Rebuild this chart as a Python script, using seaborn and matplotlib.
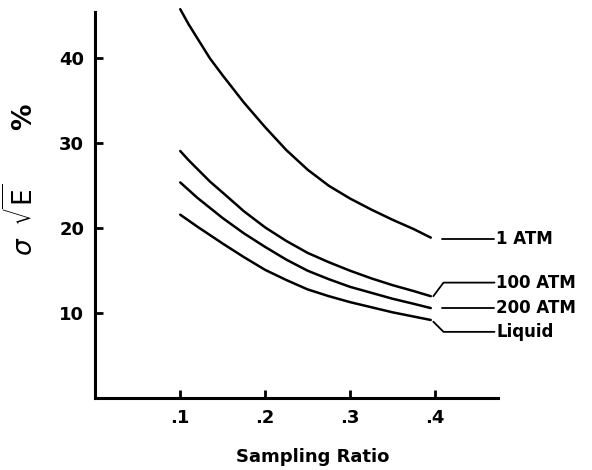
import matplotlib
matplotlib.use("Agg")
import matplotlib.pyplot as plt
import seaborn as sns
import pandas as pd

sns.set_theme(style="white")
plt.rcParams['font.family'] = ['DejaVu Sans']
plt.rcParams['text.color'] = 'black'
plt.rcParams['axes.labelcolor'] = 'black'
plt.rcParams['xtick.color'] = 'black'
plt.rcParams['ytick.color'] = 'black'

x_vals = [0.10, 0.11, 0.12, 0.135, 0.15, 0.175, 0.20, 0.225, 0.25, 0.275,
          0.30, 0.325, 0.35, 0.375, 0.395]
atm1 = [45.8, 44.0, 42.4, 40.0, 38.0, 34.8, 31.9, 29.2, 26.9, 25.0,
        23.5, 22.2, 21.0, 19.9, 18.9]
atm100 = [29.1, 28.0, 27.0, 25.5, 24.2, 22.0, 20.1, 18.5, 17.1, 16.0,
          15.0, 14.1, 13.3, 12.6, 12.0]
atm200 = [25.4, 24.5, 23.6, 22.4, 21.2, 19.4, 17.8, 16.3, 15.0, 14.0,
          13.1, 12.4, 11.7, 11.1, 10.6]
liquid = [21.6, 20.9, 20.2, 19.2, 18.2, 16.6, 15.1, 13.9, 12.8, 12.0,
          11.3, 10.7, 10.1, 9.6, 9.2]
series_names = ["1 ATM", "100 ATM", "200 ATM", "Liquid"]
x_ticks = [0.1, 0.2, 0.3, 0.4]
x_tick_labels = [".1", ".2", ".3", ".4"]
y_ticks = [10, 20, 30, 40]

frames = []
for name, vals in zip(series_names, [atm1, atm100, atm200, liquid]):
    frames.append(pd.DataFrame({"x": x_vals, "y": vals, "s": name}))
df = pd.concat(frames, ignore_index=True)

fig = plt.figure(figsize=(5.92, 4.70), dpi=100)
ax = fig.add_axes([0.161, 0.153, 0.68, 0.822])
sns.lineplot(data=df, x="x", y="y", units="s", estimator=None, color="black",
             lw=1.8, ax=ax, legend=False)
for l in ax.get_lines():
    l.set_clip_on(False)
    l.set_solid_joinstyle("round")

ax.set_xlim(0, 0.474)
ax.set_ylim(0, 45.5)
ax.set_xticks(x_ticks)
ax.set_xticklabels(x_tick_labels, fontsize=13, fontweight="bold")
ax.set_yticks(y_ticks)
ax.set_yticklabels([str(v) for v in y_ticks], fontsize=13, fontweight="bold")
ax.tick_params(axis="both", direction="in", length=6, width=2, color="black",
               bottom=True, left=True, pad=8)
for side in ["top", "right"]:
    ax.spines[side].set_visible(False)
for side in ["left", "bottom"]:
    ax.spines[side].set_linewidth(2.2)
    ax.spines[side].set_color("black")

ax.set_xlabel("Sampling Ratio", fontsize=13, fontweight="bold")
ax.xaxis.set_label_coords(0.54, -0.13)
ax.set_ylabel(r"$\sigma\;\; \sqrt{\mathrm{E}}$      %", fontsize=19, fontweight="bold")
ax.yaxis.set_label_coords(-0.14, 0.565)

# label leaders
lab_y = {"1 ATM": 18.7, "100 ATM": 13.6, "200 ATM": 10.6, "Liquid": 7.8}
ends = {"1 ATM": 18.7, "100 ATM": 12.0, "200 ATM": 10.6, "Liquid": 9.0}
for name in series_names:
    ty = lab_y[name]
    ey = ends[name]
    if abs(ty - ey) > 0.3:
        ax.plot([0.398, 0.410, 0.470], [ey, ty, ty], color="black", lw=1.3, clip_on=False)
    else:
        ax.plot([0.408, 0.470], [ty, ty], color="black", lw=1.3, clip_on=False)
    ax.text(0.472, ty, name, fontsize=12, fontweight="bold", va="center", ha="left",
            clip_on=False)

fig.savefig("out.png", dpi=100)
